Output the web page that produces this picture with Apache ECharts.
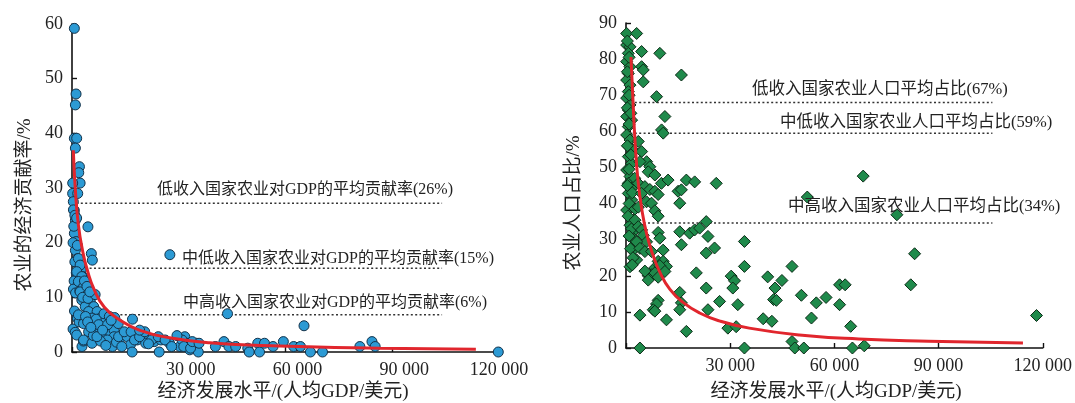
<!DOCTYPE html>
<html><head><meta charset="utf-8">
<script src="https://cdn.jsdelivr.net/npm/echarts@6/dist/echarts.min.js"></script>
<style>html,body{margin:0;padding:0;background:#fff}#c{width:1075px;height:403px}</style>
</head><body><div id="c"></div>
<script>
// ---------- data ----------
const xTickValues = [0, 30000, 60000, 90000, 120000];
const leftYTicks = [0, 10, 20, 30, 40, 50, 60];
const rightYTicks = [0, 10, 20, 30, 40, 50, 60, 70, 80, 90];

const leftTitleX = '经济发展水平/(人均GDP/美元)';
const leftTitleY = '农业的经济贡献率/%';
const rightTitleX = '经济发展水平/(人均GDP/美元)';
const rightTitleY = '农业人口占比/%';

const leftRefValues = [27.2, 15.3, 6.8];
const leftRefLabels = ['低收入国家农业对GDP的平均贡献率(26%)', '中低收入国家农业对GDP的平均贡献率(15%)', '中高收入国家农业对GDP的平均贡献率(6%)'];
const rightRefValues = [68.0, 59.5, 34.6];
const rightRefLabels = ['低收入国家农业人口平均占比(67%)', '中低收入国家农业人口平均占比(59%)', '中高收入国家农业人口平均占比(34%)'];
const leftRefEnd = 104000;
const rightRefEnd = 105500;

const leftPoints = [
 [660,59.2],[1140,47.2],[950,45.2],[660,39.1],[1320,39.1],[950,37.3],[2090,33.9],[1900,32.8],[2280,30.9],[200,30.9],
 [180,29.0],[1610,29.0],[370,27.5],[660,25.9],[950,24.1],[4480,22.9],[660,21.7],[1140,20.2],[950,18.6],[5430,18.0],
 [5720,16.8],[1610,17.1],[2090,15.9],[2570,15.0],[3050,13.8],
 [400,26],[800,25],[500,23],[1300,24.5],[300,20],[1500,19.5],[800,16.5],[1200,14.5],[600,13],[1800,12.5],
 [400,11.5],[1000,10.8],[2200,11.2],[700,7.5],[300,4.2],[900,3.6],[1500,6.2],[2800,1.0],[3200,2.0],[2000,5.5],
 [1800,17.1],[2280,15.9],[1330,14.7],[2760,13.8],[1800,12.9],[3240,11.9],[2280,11.0],[4190,10.4],[2760,9.5],[5150,9.2],
 [3720,8.3],[6100,8.3],[4670,7.4],[7060,7.4],[1800,6.8],[5620,6.2],[8010,6.2],[3240,5.2],[8970,5.5],[6580,4.6],
 [9920,4.3],[4670,3.7],[7540,3.4],[10880,3.4],[11830,4.0],[1330,3.1],[8490,2.5],[11830,2.8],[3240,2.2],[9920,2.2],
 [13270,2.2],[5620,1.6],[11360,1.0],
 [3500,13],[4200,12],[3000,10],[4500,9.8],[6500,10.5],[5000,11],[3800,6.5],[6800,6.0],[7500,5.0],[9000,7.0],
 [10500,6.5],[12000,6.3],[10000,5.0],[13000,5.2],[6000,3.0],[8000,2.0],[7000,2.8],[9500,1.2],[12500,1.8],[4400,5.5],
 [5300,4.5],[8600,4.0],[11000,5.8],
 [13100,2.8],[15500,2.8],[16400,1.3],[16900,0],[18300,2.2],[20200,2.8],[20700,1.6],[23100,1.9],[24500,0],[25000,2.2],
 [27400,1.6],[30300,1.0],[31700,2.8],[32700,1.6],[33100,0.4],[35000,1.6],[35500,0],
 [14700,3.7],[16610,3.7],[17560,2.2],[18990,2.8],[20430,3.7],[22340,2.2],[24250,2.8],[26160,2.2],[30930,2.2],[31410,1.0],
 [33320,0.7],[33800,1.9],[35710,1.6],[14000,1.0],[17000,6.0],[19000,4.0],[21500,1.5],[28000,1.0],[29500,3.0],
 [40300,1.0],[42700,1.9],[44100,1.0],[46000,1.0],[49400,0.7],[49800,0],[52200,1.6],[52700,0],[54100,1.6],[56500,1.0],
 [59400,1.9],[62300,1.0],[64200,1.0],[67000,0],[70400,0],[80900,1.0],[84300,1.9],[85200,1.0],[119800,0],
 [27500,17.8],[43700,7.0],[65200,4.8]
];

const rightPoints = [
 [190,87.1],[3060,87.1],[190,83.9],[1150,83.4],[670,81.6],[190,79.3],[1150,77.9],[670,76.0],[190,74.2],[1150,72.8],
 [670,71.0],[190,69.2],[1150,67.3],[670,65.9],[190,64.1],[1620,63.1],[670,61.3],[190,59.0],[1150,57.6],[670,55.8],
 [2100,54.8],[670,53.0],[1620,51.1],[190,49.3],[1150,47.5],[670,45.6],[2100,44.7],[670,42.8],[1620,41.0],[1150,38.7],
 [190,38.2],[2100,35.4],[1150,34.0],[2580,32.7],[1620,30.8],[2100,27.1],[1150,22.5],[3060,24.4],[4010,0],
 [400,85],[900,80.5],[400,76.5],[900,70],[400,66.5],[1400,65],[900,62],[400,56],[1400,53.5],[900,49.5],
 [2500,47],[400,45],[1800,43],[900,40],[2600,38.5],[600,36.5],[1600,33],[900,31],[2800,29],[1300,27.5],[2000,25],[1800,23],
 [4490,82.1],[4490,77.9],[4970,77.0],[4970,73.7],[9740,81.6],[8800,69.6],[11200,64.1],[10240,60.4],[10720,59.5],[3540,57.2],
 [4500,54.4],[5930,51.6],[4010,51.6],[6870,50.2],[6400,48.8],[8310,47.9],[3540,45.6],[5440,44.7],[4490,42.8],[6870,43.9],
 [8310,43.4],[9260,42.5],[10200,45.6],[12120,46.5],[5920,40.5],[7350,40.1],[3540,39],[8310,38],[9260,36.5],[2580,35.4],
 [3540,33.6],[4490,32.7],[4970,31.2],[5920,29.4],[3060,29.4],[4010,27.6],[5440,26.7],[7350,26.7],[9260,32.0],[9740,30.4],
 [10690,27.1],[9260,24.0],[8310,22.2],[10690,24.0],[11650,22.6],[6400,20.0],[7350,20.3],[8310,20.8],[9260,19.6],[9740,22.8],
 [11200,21.2],[5440,21.3],[6400,18.8],[4010,9.1],[9260,13.2],[8790,12.2],[7840,10.6],[8310,10.2],[11650,7.8],
 [15950,75.6],[17380,46.5],[19770,46.0],[25990,45.6],[15000,43.4],[15950,43.8],[15480,40.1],[23100,35.0],[15480,32.2],[18340,31.8],
 [19770,32.7],[21200,33.2],[15950,28.6],[23600,30.9],[23100,26.3],[25500,27.7],[34100,29.5],[20250,20.8],[23100,16.6],[26940,12.9],
 [30280,19.9],[31240,18.6],[30760,16.6],[34100,22.6],[32190,12.0],[15950,12.5],[15480,10.6],[23600,10.6],[15470,15.4],[17380,4.6],
 [29330,5.5],[31720,5.9],[34100,0],
 [40800,19.7],[42900,16.6],[42500,13.4],[43300,13.2],[44900,18.7],[47800,22.6],[39500,8.1],[42000,7.4],[47800,1.8],[48600,0],
 [50500,14.6],[51200,0],[52200,41.8],[53400,8.3],[54800,12.5],[57600,14.0],[61500,17.5],[63100,17.5],[61500,12.0],[64700,6.0],
 [65200,0],[68300,47.6],[68600,0.6],[78000,36.9],[82000,17.5],[83100,26.1],[118200,9.0]
];

// trend curves
const leftTrend = [[370,36.9],[950,29.6],[1800,23.2],[2950,18.6],[4300,15.0],[6300,11.3],[9100,8.2],[13300,5.9],
 [18900,4.0],[27400,2.6],[38700,1.7],[58400,1.1],[86500,0.7],[113500,0.5]];
const rightTrend = [[1430,80.6],[2000,68.7],[2580,57.6],[3440,46.5],[4580,38.2],[6020,31.3],[7740,25.8],[9740,21.0],
 [12600,16.3],[16330,12.7],[21200,9.7],[26900,7.5],[35500,5.5],[49900,3.6],[67000,2.5],[87100,1.9],[114300,1.4]];

// ---------- chart ----------
const SERIF = '"Liberation Serif", "Noto Sans CJK SC", serif';
const TEXT = '#222';
const spaced = v => String(v).replace(/\B(?=(\d{3})+(?!\d))/g, ' ');
const lastX = xTickValues[xTickValues.length - 1];

function xAxisCfg(grid, shiftLabels) {
  const labelFont = { fontFamily: SERIF, fontSize: 18, color: TEXT };
  return {
    gridIndex: grid, type: 'value', min: xTickValues[0], max: lastX,
    interval: xTickValues[1] - xTickValues[0],
    axisLine: { lineStyle: { color: '#111', width: 1.6 } },
    axisTick: { inside: true, length: 5, lineStyle: { color: '#111', width: 1.4 } },
    splitLine: { show: false },
    axisLabel: Object.assign({}, labelFont, {
      margin: 9,
      formatter: v => v === 0 ? '' : (shiftLabels && v !== lastX ? '{s|' + spaced(v) + '}' : '{n|' + spaced(v) + '}'),
      rich: { s: Object.assign({ padding: [0, 0, 0, 24] }, labelFont), n: Object.assign({}, labelFont) }
    })
  };
}
function yAxisCfg(grid, ticks) {
  return {
    gridIndex: grid, type: 'value', min: ticks[0], max: ticks[ticks.length - 1], interval: ticks[1] - ticks[0],
    axisLine: { show: true, lineStyle: { color: '#111', width: 1.6 } },
    axisTick: { show: true, inside: true, length: 5, lineStyle: { color: '#111', width: 1.4 } },
    splitLine: { show: false },
    axisLabel: { fontFamily: SERIF, fontSize: 18, color: TEXT, margin: 9 }
  };
}
function refSeries(xi, values, end) {
  return values.map(v => ({
    type: 'line', xAxisIndex: xi, yAxisIndex: xi, data: [[0, v], [end, v]],
    symbol: 'none', silent: true, z: 1,
    lineStyle: { color: '#333', width: 1.5, type: [2, 2.4] }
  }));
}
function textEl(text, x, y, size, rot) {
  return {
    type: 'text', x: x, y: y, rotation: rot || 0, z: 100,
    style: { text: text, fill: TEXT, font: size + 'px ' + SERIF, align: rot ? 'center' : 'left', verticalAlign: 'middle',
             textAlign: rot ? 'center' : 'left', textVerticalAlign: 'middle' }
  };
}
function trendSeries(xi, data) {
  return { type: 'line', xAxisIndex: xi, yAxisIndex: xi, data: data, smooth: 0.5, symbol: 'none', z: 3,
           lineStyle: { color: '#e1262d', width: 3 } };
}

const chart = echarts.init(document.getElementById('c'), null, { renderer: 'canvas' });
chart.setOption({
  animation: false,
  backgroundColor: '#fff',
  grid: [
    { left: 72, top: 24, width: 427, height: 328 },
    { left: 626, top: 23, width: 419, height: 325 }
  ],
  xAxis: [xAxisCfg(0, true), xAxisCfg(1, false)],
  yAxis: [yAxisCfg(0, leftYTicks), yAxisCfg(1, rightYTicks)],
  series: [
    ...refSeries(0, leftRefValues, leftRefEnd),
    ...refSeries(1, rightRefValues, rightRefEnd),
    { type: 'scatter', xAxisIndex: 0, yAxisIndex: 0, data: leftPoints, symbol: 'circle', symbolSize: 10, z: 2,
      itemStyle: { color: '#2c9ad4', borderColor: '#13324a', borderWidth: 1, opacity: 1 } },
    { type: 'scatter', xAxisIndex: 1, yAxisIndex: 1, data: rightPoints, symbol: 'diamond', symbolSize: 12, z: 2,
      itemStyle: { color: '#1f8a4b', borderColor: '#0c2c17', borderWidth: 1, opacity: 1 } },
    trendSeries(0, leftTrend),
    trendSeries(1, rightTrend)
  ],
  graphic: [
    textEl(leftRefLabels[0], 157, 190, 16),
    textEl(leftRefLabels[1], 182, 259, 16),
    textEl(leftRefLabels[2], 183, 303, 16),
    textEl(rightRefLabels[0], 752, 90, 16.5),
    textEl(rightRefLabels[1], 780, 123, 16.5),
    textEl(rightRefLabels[2], 788, 207, 16.5),
    textEl(leftTitleY, 25, 205, 19, Math.PI / 2),
    textEl(rightTitleY, 574, 203, 19, Math.PI / 2),
    textEl(leftTitleX, 283, 392, 19, 0.0000001),
    textEl(rightTitleX, 836, 392, 19, 0.0000001)
  ]
});
</script></body></html>
